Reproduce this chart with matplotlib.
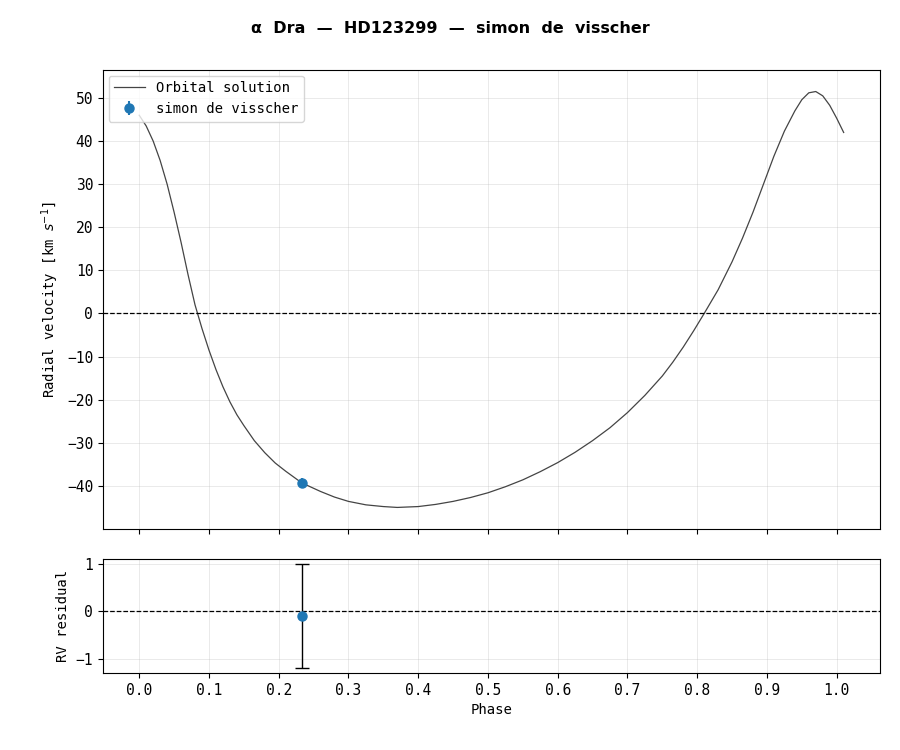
import matplotlib
matplotlib.use("Agg")
import matplotlib.pyplot as plt

# orbital solution
model_phase = [0.00, 0.01, 0.02, 0.03, 0.04, 0.05, 0.06, 0.07, 0.08, 0.09, 0.10, 0.11,
               0.12, 0.13, 0.14, 0.15, 0.165, 0.18, 0.195, 0.21, 0.233, 0.26, 0.28, 0.30,
               0.325, 0.35, 0.37, 0.40, 0.425, 0.45, 0.475, 0.50, 0.525, 0.55, 0.575,
               0.60, 0.625, 0.65, 0.675, 0.70, 0.725, 0.75, 0.765, 0.78, 0.795, 0.81,
               0.83, 0.85, 0.865, 0.88, 0.895, 0.91, 0.925, 0.94, 0.95, 0.96, 0.97,
               0.98, 0.99, 1.00, 1.01]
model_rv = [46, 43.5, 40, 35.5, 30, 23.5, 16.5, 9, 2, -3.5, -8.5, -13,
            -17, -20.5, -23.5, -26, -29.5, -32.3, -34.7, -36.6, -39.3, -41.3, -42.6, -43.6,
            -44.4, -44.8, -45, -44.8, -44.3, -43.6, -42.7, -41.6, -40.2, -38.6, -36.7,
            -34.6, -32.2, -29.5, -26.5, -23, -19, -14.5, -11.3, -7.8, -4, 0,
            5.5, 12, 17.5, 23.5, 30, 36.5, 42.3, 47, 49.6, 51.2, 51.5,
            50.5, 48.3, 45.3, 42]

obs_phase = [0.233]
obs_rv = [-39.3]
obs_err = [1.1]
obs_resid = [-0.1]

plt.rcParams["font.family"] = ["DejaVu Sans Mono"]
fig = plt.figure(figsize=(9, 7.5), dpi=100)
ax = fig.add_axes([0.1144, 0.2947, 0.8633, 0.612])
axr = fig.add_axes([0.1144, 0.1027, 0.8633, 0.152], sharex=ax)

ax.plot(model_phase, model_rv, color="#444444", lw=0.9, label="Orbital solution")
ax.errorbar(obs_phase, obs_rv, yerr=obs_err, fmt="o", color="#1f77b4", ms=6.5,
            label="simon de visscher")
ax.axhline(0, color="black", ls="--", lw=0.9)
ax.set_ylim(-50, 56.5)
ax.set_xlim(-0.052, 1.062)
ax.set_ylabel(r"Radial velocity [km $s^{-1}$]", fontsize=10)
ax.grid(alpha=0.3, lw=0.6)
ax.tick_params(labelbottom=False, labelsize=10.5)
ax.legend(loc="upper left", fontsize=10, handlelength=2.2, borderaxespad=0.4)
ax.set_yticks(range(-40, 51, 10))

axr.errorbar(obs_phase, obs_resid, yerr=obs_err, fmt="o", color="#1f77b4", ms=6.5,
             ecolor="black", elinewidth=1, capsize=5)
axr.axhline(0, color="black", ls="--", lw=0.9)
axr.set_ylim(-1.3, 1.1)
axr.set_yticks([-1, 0, 1])
axr.set_xticks([i / 10 for i in range(11)])
axr.set_ylabel("RV residual", fontsize=10)
axr.set_xlabel("Phase", fontsize=10)
axr.grid(alpha=0.3, lw=0.6)
axr.tick_params(labelsize=10.5)

fig.suptitle("α  Dra  —  HD123299  —  simon  de  visscher", fontsize=11.5,
             fontweight="bold", family="DejaVu Sans", y=0.972)
fig.savefig("out.png")
